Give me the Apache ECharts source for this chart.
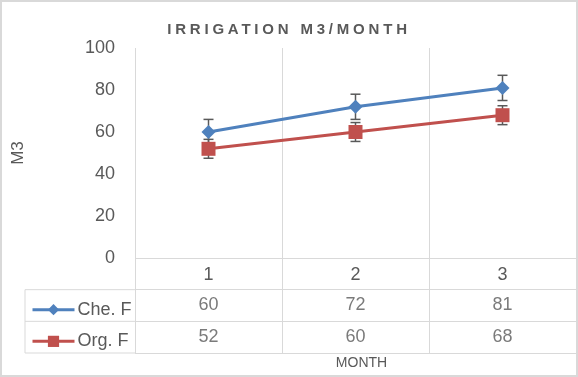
<!DOCTYPE html>
<html>
<head>
<meta charset="utf-8">
<script src="https://cdn.jsdelivr.net/npm/echarts@6/dist/echarts.min.js"></script>
<style>
  html, body { margin: 0; padding: 0; background: #fff; }
  #wrap { position: relative; width: 578px; height: 377px; }
  #chart { width: 578px; height: 377px; }
  #title {
    position: absolute; left: 0; top: 20px; width: 578px;
    text-align: center; font: bold 15px "Liberation Sans", sans-serif;
    letter-spacing: 3.8px; color: #595959; pointer-events: none;
  }
</style>
</head>
<body>
<div id="wrap">
  <div id="chart"></div>
  <div id="title">IRRIGATION M3/MONTH</div>
</div>
<script>
// values
var months = ["1", "2", "3"];
var cheF = [60, 72, 81];
var orgF = [52, 60, 68];
var cheErr = [6, 6, 6];
var orgErr = [4.5, 4.5, 4.5];
var seriesNames = ["Che. F", "Org. F"];

var BLUE = "#4f81bd";
var RED = "#c0504d";
var TXT = "#595959";
var GRID = "#d9d9d9";
var FONT = "Liberation Sans";

// layout (px)
var plotLeft = 135, plotRight = 2, plotTop = 48, axisY = 258;
var tableBottom = 353, legendLeft = 25;
var rowH = (tableBottom - axisY) / 3;

function errBars(vals, errs) {
  return vals.map(function (v, i) { return [i, v - errs[i], v + errs[i]]; });
}

function tableRow(name, vals) {
  return vals.map(function (v, i) { return [months[i], name, v]; });
}

function renderErr(params, api) {
  var x = api.value(0);
  var lo = api.coord([x, api.value(1)]);
  var hi = api.coord([x, api.value(2)]);
  var cap = 5;
  var st = { stroke: "#595959", lineWidth: 1.5 };
  return {
    type: "group",
    children: [
      { type: "line", shape: { x1: lo[0], y1: lo[1], x2: hi[0], y2: hi[1] }, style: st },
      { type: "line", shape: { x1: lo[0] - cap, y1: lo[1], x2: lo[0] + cap, y2: lo[1] }, style: st },
      { type: "line", shape: { x1: hi[0] - cap, y1: hi[1], x2: hi[0] + cap, y2: hi[1] }, style: st }
    ]
  };
}

var tableLabel = {
  show: true, position: "inside", fontSize: 18, color: TXT,
  formatter: function (p) { return p.value[2]; }
};

var myChart = echarts.init(document.getElementById("chart"));

var option = {
  animation: false,
  textStyle: { fontFamily: FONT },
  grid: [
    { left: plotLeft, right: plotRight, top: plotTop, bottom: 377 - axisY },
    { left: plotLeft, right: plotRight, top: axisY, bottom: 377 - tableBottom }
  ],
  legend: {
    data: seriesNames,
    orient: "vertical",
    left: legendLeft + 1,
    top: axisY + rowH + 6,
    itemWidth: 42,
    itemHeight: 14,
    itemGap: 13.7,
    lineStyle: { width: 3 },
    textStyle: { fontSize: 18, color: TXT, fontFamily: FONT, padding: [0, 0, 0, -2] }
  },
  xAxis: [
    {
      type: "category",
      gridIndex: 0,
      data: months,
      boundaryGap: true,
      axisLine: { show: false },
      axisTick: { show: false },
      axisLabel: { fontSize: 18, color: TXT, margin: 8 },
      splitLine: { show: true, lineStyle: { color: GRID, width: 1 } }
    },
    {
      type: "category",
      gridIndex: 1,
      data: months,
      boundaryGap: true,
      axisLine: { show: false },
      axisTick: { show: false },
      axisLabel: { show: false },
      splitLine: { show: true, lineStyle: { color: GRID, width: 1 } },
      name: "MONTH",
      nameLocation: "middle",
      nameGap: 3,
      nameTextStyle: { fontSize: 14, color: TXT, verticalAlign: "top", padding: [0, 0, 0, 12] }
    }
  ],
  yAxis: [
    {
      type: "value",
      gridIndex: 0,
      min: 0,
      max: 100,
      interval: 20,
      axisLine: { show: false },
      axisTick: { show: false },
      splitLine: { show: false },
      axisLabel: { fontSize: 18, color: TXT, margin: 20 },
      name: "M3",
      nameLocation: "middle",
      nameRotate: 90,
      nameGap: 108,
      nameTextStyle: { fontSize: 17, color: TXT }
    },
    {
      type: "category",
      gridIndex: 1,
      inverse: true,
      data: ["month"].concat(seriesNames),
      boundaryGap: true,
      axisLine: { show: false },
      axisTick: { show: false },
      axisLabel: { show: false },
      splitLine: { show: true, lineStyle: { color: GRID, width: 1 } }
    }
  ],
  graphic: [
    { type: "rect", shape: { x: 1, y: 1, width: 576, height: 375 }, style: { fill: null, stroke: GRID, lineWidth: 2 }, silent: true },
    { type: "line", shape: { x1: legendLeft, y1: axisY + rowH, x2: plotLeft, y2: axisY + rowH }, style: { stroke: GRID, lineWidth: 1 } },
    { type: "line", shape: { x1: legendLeft, y1: axisY + 2 * rowH, x2: plotLeft, y2: axisY + 2 * rowH }, style: { stroke: GRID, lineWidth: 1 } },
    { type: "line", shape: { x1: legendLeft, y1: tableBottom, x2: plotLeft, y2: tableBottom }, style: { stroke: GRID, lineWidth: 1 } },
    { type: "line", shape: { x1: legendLeft, y1: axisY + rowH, x2: legendLeft, y2: tableBottom }, style: { stroke: GRID, lineWidth: 1 } }
  ],
  series: [
    {
      name: "errChe", type: "custom", xAxisIndex: 0, yAxisIndex: 0, z: 1,
      renderItem: renderErr, encode: { x: 0, y: [1, 2] }, data: errBars(cheF, cheErr)
    },
    {
      name: "errOrg", type: "custom", xAxisIndex: 0, yAxisIndex: 0, z: 1,
      renderItem: renderErr, encode: { x: 0, y: [1, 2] }, data: errBars(orgF, orgErr)
    },
    {
      name: "Che. F", type: "line", xAxisIndex: 0, yAxisIndex: 0, z: 3,
      data: cheF, symbol: "diamond", symbolSize: 14,
      lineStyle: { color: BLUE, width: 3 }, itemStyle: { color: BLUE }
    },
    {
      name: "Org. F", type: "line", xAxisIndex: 0, yAxisIndex: 0, z: 3,
      data: orgF, symbol: "rect", symbolSize: 14,
      lineStyle: { color: RED, width: 3 }, itemStyle: { color: RED }
    },
    {
      name: "tableChe", type: "scatter", xAxisIndex: 1, yAxisIndex: 1,
      encode: { x: 0, y: 1 },
      data: tableRow("Che. F", cheF), symbolSize: 2, itemStyle: { color: "rgba(0,0,0,0)" },
      label: tableLabel
    },
    {
      name: "tableOrg", type: "scatter", xAxisIndex: 1, yAxisIndex: 1,
      encode: { x: 0, y: 1 },
      data: tableRow("Org. F", orgF), symbolSize: 2, itemStyle: { color: "rgba(0,0,0,0)" },
      label: tableLabel
    }
  ]
};

myChart.setOption(option);
</script>
</body>
</html>
